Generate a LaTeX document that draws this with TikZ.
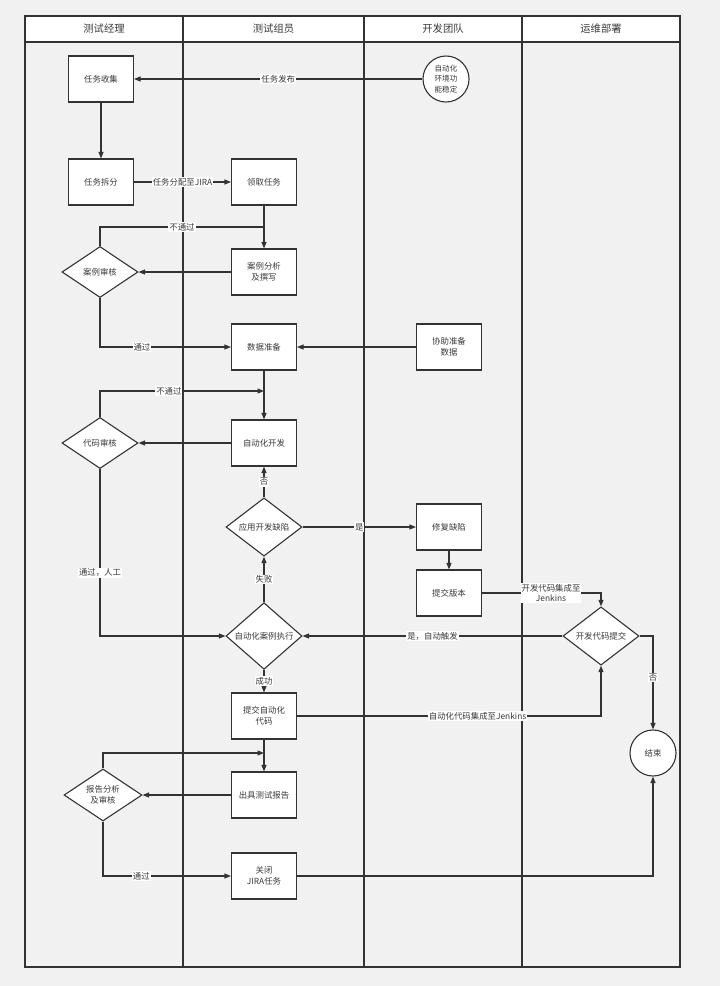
\documentclass[tikz,border=0pt]{standalone}
\usepackage{fontspec}
\setmainfont{Noto Sans CJK SC}
\usetikzlibrary{shapes.geometric,arrows.meta}
\definecolor{bg}{HTML}{F1F1F1}
\definecolor{ln}{HTML}{333333}
\definecolor{tx}{HTML}{3A3A3A}
\begin{document}
\begin{tikzpicture}[x=1pt,y=-1pt,
  every node/.style={text=tx,font=\fontsize{8.4}{10.7}\selectfont},
  box/.style={draw=ln,fill=white,line width=1.1pt,minimum width=65pt,minimum height=46pt,inner sep=0pt,align=center},
  dia/.style={diamond,draw=ln,fill=white,line width=1.1pt,minimum width=76pt,minimum height=51pt,inner sep=0pt,align=center},
  circ/.style={circle,draw=ln,fill=white,line width=1.1pt,minimum size=46pt,inner sep=0pt,align=center},
  lane/.style={draw=ln,line width=1.3pt},
  head/.style={font=\fontsize{10.3}{12}\selectfont},
  arr/.style={draw=ln,line width=1.1pt,-{Triangle[length=6.5pt,width=5pt]}},
  con/.style={draw=ln,line width=1.1pt},
  lbl/.style={fill=white,inner sep=1pt,align=center}
]
% background and bounding box
\fill[bg] (0,0) rectangle (720,986);
\useasboundingbox (0,0) rectangle (720,986);
% header
\fill[white] (25,16) rectangle (680,42);
\draw[lane] (25,16) rectangle (680,967);
\draw[lane] (25,42) -- (680,42);
\draw[lane] (183,16) -- (183,967);
\draw[lane] (364,16) -- (364,967);
\draw[lane] (522,16) -- (522,967);
\node[head] (h1) at (104,29) {测试经理};
\node[head] (h2) at (273.5,29) {测试组员};
\node[head] (h3) at (443,29) {开发团队};
\node[head] (h4) at (601,29) {运维部署};

% nodes
\node[box] (collect) at (101,79) {任务收集};
\node[circ,font=\fontsize{7.6}{10.3}\selectfont] (envs) at (446,79) {自动化\\环境功\\能稳定};
\node[box] (split) at (101,182) {任务拆分};
\node[box] (take) at (264,182) {领取任务};
\node[box] (casew) at (264,272) {案例分析\\及撰写};
\node[dia] (casechk) at (100,272) {案例审核};
\node[box] (data) at (264,347) {数据准备};
\node[box] (help) at (449,347) {协助准备\\数据};
\node[dia] (codechk) at (100,443) {代码审核};
\node[box] (dev) at (264,443) {自动化开发};
\node[dia] (bug) at (264,527) {应用开发缺陷};
\node[box] (fix) at (449,527) {修复缺陷};
\node[box] (ver) at (449,593) {提交版本};
\node[dia] (exec) at (264,636) {自动化案例执行};
\node[dia] (commit) at (601,636) {开发代码提交};
\node[box] (subauto) at (264,716) {提交自动化\\代码};
\node[box] (report) at (264,795) {出具测试报告};
\node[dia,minimum width=78pt] (rchk) at (103,795) {报告分析\\及审核};
\node[box] (close) at (264,876) {关闭\\JIRA任务};
\node[circ] (end) at (653,753) {结束};

\coordinate (j1) at (264,227);
\coordinate (j2) at (264,391);
\coordinate (j3) at (264,753);

% connectors
\draw[arr] (envs) -- node[lbl]{任务发布} (collect);
\draw[arr] (collect) -- (split);
\draw[arr] (split) -- node[lbl]{任务分配至JIRA} (take);
\draw[arr] (take) -- (casew);
\draw[arr] (casew) -- (casechk);
\draw[con] (casechk.north) |- node[lbl,pos=0.75]{不通过} (j1);
\draw[arr] (casechk.south) |- node[lbl,pos=0.66]{通过} (data.west);
\draw[arr] (help) -- (data);
\draw[arr] (data) -- (dev);
\draw[arr] (codechk.north) |- node[lbl,pos=0.71]{不通过} (j2);
\draw[arr] (dev) -- (codechk);
\draw[arr] (bug) -- node[lbl]{否} (dev);
\draw[arr] (bug) -- node[lbl]{是} (fix);
\draw[arr] (fix) -- (ver);
\draw[arr] (exec) -- node[lbl]{失败} (bug);
\draw[arr] (codechk.south) |- node[lbl,pos=0.31]{通过，人工} (exec.west);
\draw[arr] (commit) -- node[lbl]{是，自动触发} (exec);
\draw[arr] (exec) -- node[lbl]{成功} (subauto);
\draw[arr] (ver.east) -| node[lbl,pos=0.29]{开发代码集成至\\Jenkins} (commit.north);
\draw[arr] (subauto.east) -| node[lbl,pos=0.297]{自动化代码集成至Jenkins} (commit.south);
\draw[arr] (commit.east) -| node[lbl,pos=0.72]{否} (end.north);
\draw[arr] (subauto) -- (report);
\draw[arr] (rchk.north) |- (j3);
\draw[arr] (report) -- (rchk);
\draw[arr] (rchk.south) |- node[lbl,pos=0.65]{通过} (close.west);
\draw[arr] (close.east) -| (end.south);
\end{tikzpicture}
\end{document}
